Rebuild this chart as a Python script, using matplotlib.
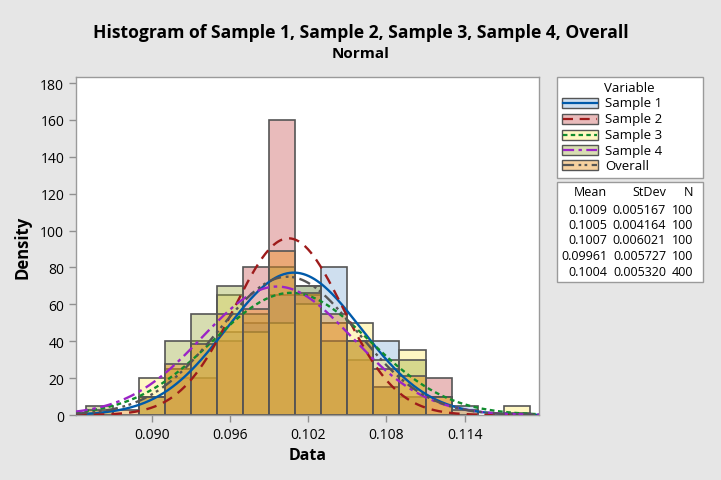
import numpy as np
import matplotlib
matplotlib.use("Agg")
import matplotlib.pyplot as plt
from matplotlib.patches import Rectangle
from matplotlib.lines import Line2D
from matplotlib.colors import to_rgba

plt.rcParams['font.family'] = ['Open Sans', 'DejaVu Sans']

# ================================
# DATA (densities)
# ================================
bin_centers = [0.086, 0.088, 0.090, 0.092, 0.094, 0.096, 0.098, 0.100, 0.102,
               0.104, 0.106, 0.108, 0.110, 0.112, 0.114, 0.116, 0.118]
bin_width = 0.002

sample1 = [0, 0, 10, 20, 40, 45, 50, 65, 70, 80, 40, 40, 10, 10, 5, 0, 0]
sample2 = [0, 0, 0, 25, 20, 40, 80, 160, 65, 50, 30, 15, 10, 20, 0, 0, 0]
sample3 = [0, 0, 20, 25, 40, 65, 45, 50, 60, 50, 50, 30, 35, 10, 0, 0, 5]
sample4 = [5, 0, 10, 40, 55, 70, 55, 80, 70, 40, 40, 15, 30, 0, 0, 0, 0]
overall = [2.5, 2.5, 10, 27.5, 38.75, 55, 57.5, 88.75, 66.25, 55, 40, 25,
           21.25, 10, 2.5, 0, 1.25]

names = ["Sample 1", "Sample 2", "Sample 3", "Sample 4", "Overall"]
means = [0.1009, 0.1005, 0.1007, 0.09961, 0.1004]
stdevs = [0.005167, 0.004164, 0.006021, 0.005727, 0.005320]
counts = [100, 100, 100, 100, 400]
mean_txt = ["0.1009", "0.1005", "0.1007", "0.09961", "0.1004"]
sd_txt = ["0.005167", "0.004164", "0.006021", "0.005727", "0.005320"]

# ================================
# STYLE
# ================================
fill_colors = ['#87afd9', '#c85757', '#ffed6b', '#9baa3e', '#ed8c11']
fill_alpha = 0.4
line_colors = ['#005aaa', '#9e1b1b', '#118c2e', '#9b24c6', '#555555']
line_styles = ['-', (0, (4.5, 3)), (0, (2, 1.5)), (0, (5, 2, 1.5, 2)),
               (0, (5, 2, 1.2, 1.5, 1.2, 2))]
edge_col = '#555555'

W, H = 721, 481
fig = plt.figure(figsize=(W / 100, H / 100), dpi=100, facecolor='#e6e6e6')


def fx(px):
    return px / W


def fy(py):
    return 1 - py / H


ax_l, ax_r, ax_t, ax_b = 76, 539, 78, 416
ax = fig.add_axes([fx(ax_l), fy(ax_b), (ax_r - ax_l) / W, (ax_b - ax_t) / H])
ax.set_facecolor('white')

series = [sample1, sample2, sample3, sample4, overall]
for i, dens in enumerate(series):
    xs = [c for c, d in zip(bin_centers, dens) if d > 0]
    hs = [d for d in dens if d > 0]
    ax.bar(xs, hs, width=bin_width, facecolor=to_rgba(fill_colors[i], fill_alpha),
           edgecolor=edge_col, linewidth=1.2, zorder=2 + i * 0.01)

xmin, xmax = 0.0842, 0.1197
xx = np.linspace(xmin, xmax, 500)
for i in range(5):
    pdf = np.exp(-0.5 * ((xx - means[i]) / stdevs[i]) ** 2) / (stdevs[i] * np.sqrt(2 * np.pi))
    ax.plot(xx, pdf, color=line_colors[i], linestyle=line_styles[i], lw=1.7, zorder=5)

ax.set_xlim(xmin, xmax)
ax.set_ylim(0, 183.3)
ax.set_yticks(np.arange(0, 181, 20))
ax.set_xticks([0.090, 0.096, 0.102, 0.108, 0.114])
ax.set_xticklabels(["0.090", "0.096", "0.102", "0.108", "0.114"])
ax.tick_params(axis='both', labelsize=10, length=5, color='#909090', width=1)
for sp in ax.spines.values():
    sp.set_color('#9a9a9a')
    sp.set_linewidth(1)
ax.set_xlabel("Data", fontsize=11.5, fontweight='bold', labelpad=4)
ax.set_ylabel("Density", fontsize=12, fontweight='bold', labelpad=6)

fig.text(0.5, fy(33), "Histogram of Sample 1, Sample 2, Sample 3, Sample 4, Overall",
         ha='center', va='center', fontsize=12.6, fontweight='bold')
fig.text(0.5, fy(54), "Normal", ha='center', va='center', fontsize=11, fontweight='bold')

# ================================
# LEGEND BOX
# ================================
bx0, bx1 = 557, 703
fig.patches.append(Rectangle((fx(bx0), fy(179)), (bx1 - bx0) / W, (179 - 78) / H,
                             transform=fig.transFigure, facecolor='white',
                             edgecolor='#9a9a9a', lw=1))
fig.text(fx(629), fy(88), "Variable", ha='center', va='center', fontsize=9.5)
rows = [104, 119.5, 135.5, 151, 166]
for i, ry in enumerate(rows):
    fig.patches.append(Rectangle((fx(562), fy(ry + 5)), 36 / W, 10 / H,
                                 transform=fig.transFigure,
                                 facecolor=to_rgba(fill_colors[i], fill_alpha),
                                 edgecolor=edge_col, lw=1))
    fig.lines.append(Line2D([fx(563), fx(597)], [fy(ry), fy(ry)], transform=fig.transFigure,
                            color=line_colors[i], linestyle=line_styles[i], lw=1.6))
    fig.text(fx(605), fy(ry), names[i], ha='left', va='center', fontsize=9.5)

# ================================
# STATS BOX
# ================================
fig.patches.append(Rectangle((fx(bx0), fy(283)), (bx1 - bx0) / W, (283 - 183) / H,
                             transform=fig.transFigure, facecolor='white',
                             edgecolor='#9a9a9a', lw=1))
fig.text(fx(607), fy(193), "Mean", ha='right', va='center', fontsize=9)
fig.text(fx(666), fy(193), "StDev", ha='right', va='center', fontsize=9)
fig.text(fx(693), fy(193), "N", ha='right', va='center', fontsize=9)
srows = [210, 225.5, 241, 256.5, 272]
for i, ry in enumerate(srows):
    fig.text(fx(607), fy(ry), mean_txt[i], ha='right', va='center', fontsize=9)
    fig.text(fx(666), fy(ry), sd_txt[i], ha='right', va='center', fontsize=9)
    fig.text(fx(693), fy(ry), str(counts[i]), ha='right', va='center', fontsize=9)

fig.savefig("out.png", dpi=100, facecolor=fig.get_facecolor())
